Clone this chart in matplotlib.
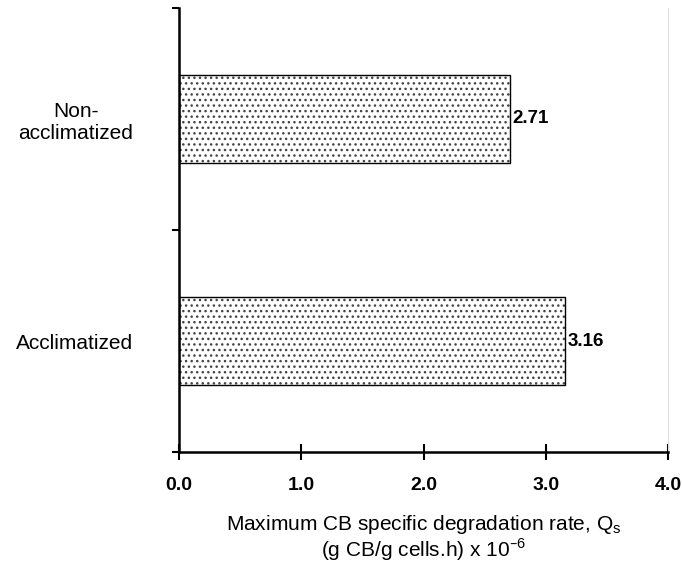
import matplotlib
matplotlib.use('Agg')
import matplotlib.pyplot as plt
from matplotlib.ticker import FixedLocator

# Datos
categorias = ['Acclimatized', 'Non-\nacclimatized']
valores = [3.16, 2.71]
etiquetas = ['3.16', '2.71']
xticks = [0.0, 1.0, 2.0, 3.0, 4.0]

plt.rcParams['font.family'] = ['Liberation Sans', 'DejaVu Sans']
plt.rcParams['hatch.linewidth'] = 1.0

fig = plt.figure(figsize=(6.82, 5.66), dpi=100)
ax = fig.add_axes([0.2625, 0.2014, 0.9795 - 0.2625, 0.9859 - 0.2014])

pos = list(range(len(categorias)))

# Relleno punteado
ax.barh(pos, valores, height=0.4, color='white', edgecolor='#444444',
        hatch='...', linewidth=0)
# Borde negro
ax.barh(pos, valores, height=0.4, fill=False, edgecolor='black', linewidth=1.0)

for p, v, t in zip(pos, valores, etiquetas):
    ax.text(v + 0.02, p, t, va='center', ha='left', fontsize=13.5, fontweight='bold')

ax.set_xlim(0, 4.0)
ax.set_ylim(-0.5, 1.5)

ax.set_xticks(xticks)
ax.set_xticklabels([f'{x:.1f}' for x in xticks], fontsize=14, fontweight='bold')
ax.tick_params(axis='x', direction='inout', length=12, width=1.5, pad=12)

ax.yaxis.set_major_locator(FixedLocator([-0.5, 0.5, 1.5]))
ax.set_yticklabels([])
ax.yaxis.set_minor_locator(FixedLocator(pos))
ax.set_yticklabels(categorias, minor=True, fontsize=15, multialignment='center')
ax.tick_params(axis='y', which='minor', length=0, pad=33)
ax.tick_params(axis='y', which='major', direction='out', length=5, width=1.5)

ax.spines['left'].set_linewidth(1.8)
ax.spines['bottom'].set_linewidth(1.8)
ax.spines['top'].set_visible(False)
ax.spines['right'].set_color('#dddddd')
ax.spines['right'].set_linewidth(0.8)

ax.set_xlabel('Maximum CB specific degradation rate, Q$_\\mathregular{s}$\n'
              '(g CB/g cells.h) x 10$^{\\mathregular{\u2013 6}}$',
              fontsize=15, labelpad=14, linespacing=1.0)

plt.savefig('out.png', dpi=100)
